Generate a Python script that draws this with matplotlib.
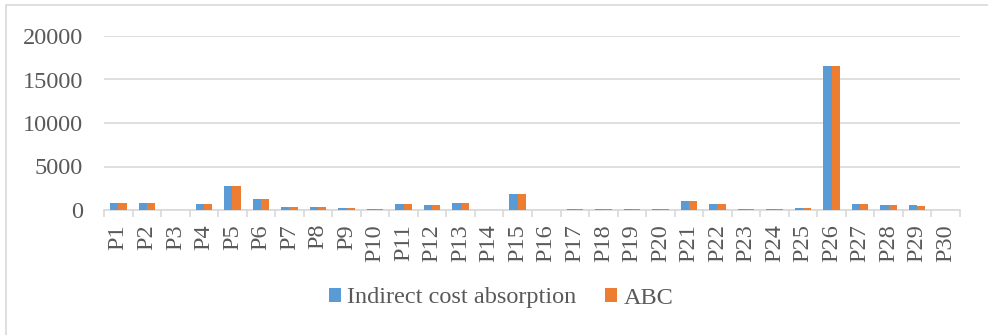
import numpy as np
import matplotlib.pyplot as plt
from matplotlib.patches import Rectangle

products = [f"P{i}" for i in range(1, 31)]
indirect_cost = [780, 780, 20, 670, 2780, 1290, 320, 400, 250, 170,
                 710, 600, 750, 20, 1820, 10, 140, 60, 60, 100,
                 980, 640, 80, 80, 200, 16500, 640, 520, 520, 10]
abc_cost = [780, 780, 20, 670, 2780, 1290, 320, 400, 250, 100,
            710, 600, 750, 20, 1820, 10, 140, 60, 60, 100,
            980, 640, 80, 80, 200, 16500, 640, 520, 500, 10]
y_ticks = [0, 5000, 10000, 15000, 20000]

plt.rcParams['font.family'] = ['Liberation Serif', 'DejaVu Serif']
fs = 17.5

fig = plt.figure(figsize=(9.88, 3.35), dpi=100)
ax = fig.add_axes([104 / 988, 1 - 210 / 335, 856 / 988, 174 / 335])

# outer chart frame
fig.patches.append(Rectangle((6 / 988, -0.1), 1.2, 1 - 5 / 335 + 0.1,
                             transform=fig.transFigure, fill=False,
                             edgecolor='#d9d9d9', linewidth=1.2))

x = np.arange(len(products))
w = 0.29
ax.bar(x - w / 2, indirect_cost, width=w, color='#5b9bd5', label='Indirect cost absorption', zorder=3)
ax.bar(x + w / 2, abc_cost, width=w, color='#ed7d31', label='ABC', zorder=3)

ax.set_xlim(-0.5, len(products) - 0.5)
ax.set_ylim(0, 20000)
ax.set_yticks(y_ticks)
ax.set_yticklabels([str(v) for v in y_ticks])
ax.yaxis.grid(True, color='#d9d9d9', linewidth=1.2, zorder=0)
ax.tick_params(axis='y', length=0, pad=15, labelsize=fs, labelcolor='#595959')

ax.set_xticks(x)
ax.set_xticklabels(products, rotation=90)
ax.set_xticks(np.arange(-0.5, len(products)), minor=True)
ax.tick_params(axis='x', which='major', length=0, pad=10, labelsize=fs, labelcolor='#595959')
ax.tick_params(axis='x', which='minor', length=5, color='#d9d9d9', width=1.2)

for side in ['top', 'right', 'left']:
    ax.spines[side].set_visible(False)
ax.spines['bottom'].set_color('#d9d9d9')
ax.spines['bottom'].set_linewidth(1.2)

fig.legend(loc='center', bbox_to_anchor=(501 / 988, 1 - 298 / 335), ncol=2, frameon=False,
           fontsize=fs, labelcolor='#595959', handlelength=0.5, handleheight=0.55,
           handletextpad=0.25, columnspacing=1.2)

plt.savefig('out.png', dpi=100)
plt.close()
